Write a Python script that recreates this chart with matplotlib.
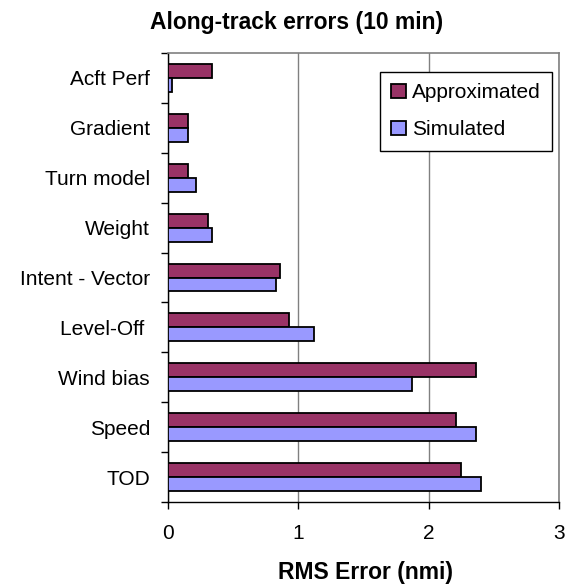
import numpy as np
import matplotlib.pyplot as plt
from matplotlib.ticker import FixedLocator

plt.rcParams['font.family'] = ['Liberation Sans', 'DejaVu Sans']

categories = ['Acft Perf', 'Gradient', 'Turn model', 'Weight', 'Intent - Vector',
              'Level-Off ', 'Wind bias', 'Speed', 'TOD']
approximated = [0.335, 0.15, 0.15, 0.31, 0.86, 0.93, 2.36, 2.21, 2.25]
simulated = [0.03, 0.15, 0.215, 0.34, 0.83, 1.12, 1.87, 2.36, 2.40]

W, H = 566, 584
fig = plt.figure(figsize=(W / 100, H / 100), dpi=100)
ax = fig.add_axes([168 / W, 82 / H, 391 / W, 449 / H])

pos = np.arange(len(categories))
h = 0.28
ax.barh(pos - h / 2, approximated, height=h, color='#993366',
        edgecolor='black', linewidth=1.3, label='Approximated', zorder=3)
ax.barh(pos + h / 2, simulated, height=h, color='#9999FF',
        edgecolor='black', linewidth=1.3, label='Simulated', zorder=3)

ax.set_xlim(0, 3)
ax.set_ylim(len(categories) - 0.5, -0.5)
ax.set_xticks([0, 1, 2, 3])
ax.set_xticklabels(['0', '1', '2', '3'], fontsize=15)
ax.tick_params(axis='x', direction='out', length=5, width=1, pad=11)

ax.set_yticks(pos)
ax.set_yticklabels(categories, fontsize=15)
ax.tick_params(axis='y', which='major', length=0, pad=13)
ax.yaxis.set_minor_locator(FixedLocator(np.arange(len(categories) + 1) - 0.5))
ax.tick_params(axis='y', which='minor', direction='out', length=5, width=1)

ax.grid(axis='x', color='#808080', linewidth=1, zorder=0)
for side in ('top', 'right'):
    ax.spines[side].set_color('#808080')
    ax.spines[side].set_linewidth(1.2)
for side in ('left', 'bottom'):
    ax.spines[side].set_color('black')
    ax.spines[side].set_linewidth(1)

fig.text(366 / W, 5 / H, 'RMS Error (nmi)', ha='center', va='baseline',
         fontsize=16.5, fontweight='bold')
fig.text(297 / W, 1 - 29 / H, 'Along-track errors (10 min)',
         ha='center', va='baseline', fontsize=16.5, fontweight='bold')

leg = ax.legend(loc='upper right', bbox_to_anchor=(552 / W, 1 - 72 / H),
                bbox_transform=fig.transFigure, fontsize=15, fancybox=False,
                framealpha=1, edgecolor='black', handlelength=0.7,
                handleheight=0.7, handletextpad=0.3, labelspacing=0.85,
                borderpad=0.55, borderaxespad=0)
leg.get_frame().set_linewidth(1)

fig.savefig('out.png', dpi=100)
